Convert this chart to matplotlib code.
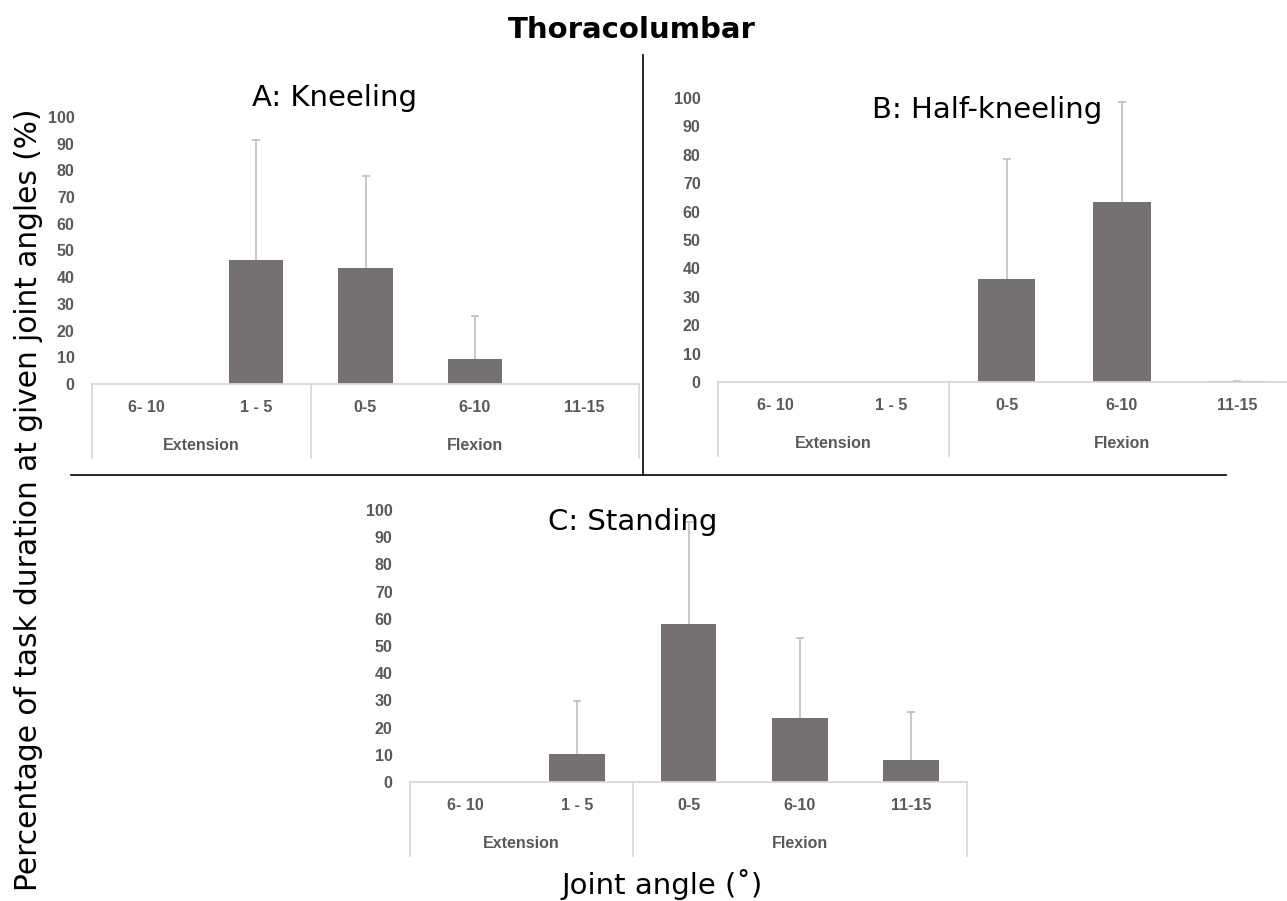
import matplotlib
matplotlib.use("Agg")
import matplotlib.pyplot as plt
from matplotlib.lines import Line2D

# data (% of task duration)
categories = ["6- 10", "1 - 5", "0-5", "6-10", "11-15"]
groups = ["Extension", "Flexion"]
group_centers = [0.5, 3.0]

kneeling = [0, 46.4, 43.6, 9.5, 0]
kneeling_err = [0, 44.9, 34.2, 15.9, 0]
half_kneeling = [0, 0, 36.1, 63.5, 0.3]
half_kneeling_err = [0, 0, 42.4, 35.0, 0.2]
standing = [0, 10.4, 58.0, 23.6, 8.0]
standing_err = [0, 19.4, 37.7, 29.2, 17.8]

W, H = 1287, 901
BAR = "#767171"
ERR = "#BFBFBF"
AXC = "#D9D9D9"
TXT = "#595959"
TICKFONT = dict(family="Liberation Sans", weight="bold", size=11.5, color=TXT)

fig = plt.figure(figsize=(W / 100, H / 100), dpi=100)


def fx(px):
    return px / W


def fy(py):
    return 1 - py / H


def panel(left, right, y0, y100, values, errs):
    ax = fig.add_axes([fx(left), fy(y0), (right - left) / W, (y0 - y100) / H])
    pxu = (y0 - y100) / 100.0  # pixels per unit
    x = list(range(len(categories)))
    ax.bar(x, values, width=0.5, color=BAR, zorder=2)
    # plus-only error bars, cap at the top only
    for xi, v, e in zip(x, values, errs):
        if e > 0:
            ax.vlines(xi, v, v + e, color=ERR, lw=1.2, zorder=1)
            ax.plot(xi, v + e, marker="_", ms=6, mew=1.2, color=ERR, zorder=1)
    ax.set_xlim(-0.5, len(categories) - 0.5)
    ax.set_ylim(0, 100)
    ax.set_yticks(range(0, 101, 10))
    ax.set_yticklabels([str(v) for v in range(0, 101, 10)], **TICKFONT)
    ax.tick_params(axis="y", length=0, pad=12.5)
    ax.set_xticks([])
    for s in ["top", "right", "left"]:
        ax.spines[s].set_visible(False)
    ax.spines["bottom"].set_color(AXC)
    ax.spines["bottom"].set_linewidth(1.3)
    ax.patch.set_alpha(0)

    # two-level category axis
    for xi, lab in zip(x, categories):
        ax.annotate(lab, xy=(xi, 0), xycoords="data", xytext=(0, -24),
                    textcoords="offset pixels", ha="center", va="center",
                    annotation_clip=False, **TICKFONT)
    for gx, lab in zip(group_centers, groups):
        ax.annotate(lab, xy=(gx, 0), xycoords="data", xytext=(0, -62),
                    textcoords="offset pixels", ha="center", va="center",
                    annotation_clip=False, **TICKFONT)
    for bx in [-0.5, 1.5, 4.5]:
        ax.plot([bx, bx], [0, -74 / pxu], color=AXC, lw=1.3, clip_on=False)
    return ax


panel(92, 639, 384, 117, kneeling, kneeling_err)
panel(718, 1295, 382, 98, half_kneeling, half_kneeling_err)
panel(410, 967, 782, 510, standing, standing_err)

# titles
fig.text(fx(632), fy(30), "Thoracolumbar", ha="center", va="center",
         fontsize=21, fontweight="bold")
fig.text(fx(335), fy(98), "A: Kneeling", ha="center", va="center", fontsize=21)
fig.text(fx(987), fy(110), "B: Half-kneeling", ha="center", va="center", fontsize=21)
fig.text(fx(633), fy(522), "C: Standing", ha="center", va="center", fontsize=21)

fig.text(fx(29), fy(500), "Percentage of task duration at given joint angles (%)",
         rotation=90, ha="center", va="center", fontsize=21.3)
fig.text(fx(662), fy(885), "Joint angle (˚)", ha="center", va="center", fontsize=21)

# separator lines
fig.add_artist(Line2D([fx(643), fx(643)], [fy(55), fy(475)], color="black", lw=1.2))
fig.add_artist(Line2D([fx(71), fx(1226)], [fy(475), fy(475)], color="black", lw=1.2))

fig.savefig("out.png", dpi=100)
